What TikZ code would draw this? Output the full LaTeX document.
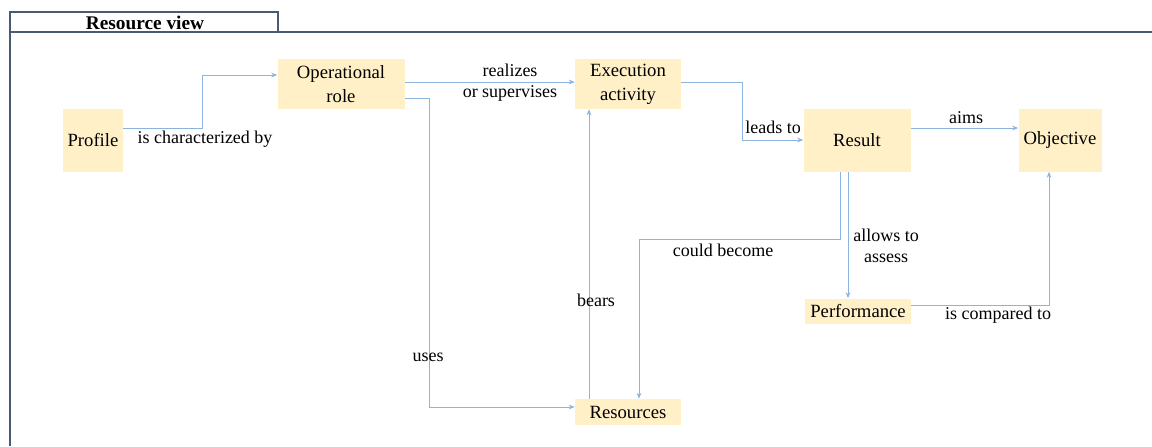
\documentclass[tikz,border=0pt]{standalone}
\usepackage{fontspec}
\setmainfont{Liberation Serif}
\usetikzlibrary{arrows.meta}

\definecolor{boxfill}{HTML}{FFF0C8}
\definecolor{linkblue}{HTML}{8CB4E0}
\definecolor{framegray}{HTML}{4A5A70}

\begin{document}
\begin{tikzpicture}[x=0.75pt, y=-0.75pt,
  box/.style={fill=boxfill, inner sep=1pt, align=center, font=\fontsize{14}{18}\selectfont},
  lbl/.style={inner sep=0pt, align=center, font=\fontsize{13.5}{15.75}\selectfont},
  link/.style={draw=linkblue, line width=0.7pt, -{Stealth[length=4.5pt, width=3.5pt]}},
  frame/.style={draw=framegray, line width=1pt}]

\useasboundingbox (0,0) rectangle (1152,446);

% frame and title
\draw[frame] (10,446) -- (10,12) -- (278,12) -- (278,32);
\draw[frame] (10,32) -- (1152,32);
\node[font=\fontsize{14.5}{17}\selectfont\bfseries] (title) at (145,23) {Resource view};

% boxes
\node[box, minimum width=45pt, minimum height=47.25pt] (prof) at (93,140) {Profile};
\node[box, minimum width=95.25pt, minimum height=37.5pt] (oprole) at (341,84) {Operational\\role};
\node[box, minimum width=79.5pt, minimum height=37.5pt] (exec) at (628,84) {Execution\\activity};
\node[box, minimum width=80.25pt, minimum height=47.25pt] (result) at (857,140) {Result};
\node[box, minimum width=62.25pt, minimum height=47.25pt] (obj) at (1060,140) {Objective};
\node[box, minimum width=79.5pt, minimum height=18.75pt] (perf) at (858,311) {Performance};
\node[box, minimum width=79.5pt, minimum height=19.5pt] (res) at (628,412) {Resources};

% links
\draw[link] ([yshift=9pt]prof.east) -- ++(79,0) |- ([yshift=6.75pt]oprole.west);
\draw[link] ([yshift=1.5pt]oprole.east) -- ([yshift=1.5pt]exec.west);
\draw[link] ([yshift=-10.5pt]oprole.east) -- ++(25,0) |- ([yshift=3.75pt]res.west);
\draw[link] ([xshift=-29.25pt]res.north) -- ([xshift=-29.25pt]exec.south);
\draw[link] ([yshift=1.5pt]exec.east) -- ++(61,0) |- (result.west);
\draw[link] ([yshift=9pt]result.east) -- ([yshift=9pt]obj.west);
\draw[link] ([xshift=-12.75pt]result.south) -- ++(0,68) -| ([xshift=8.25pt]res.north);
\draw[link] ([xshift=-7.5pt]perf.north |- result.south) -- ([xshift=-7.5pt]perf.north);
\draw[link] ([yshift=4.5pt]perf.east) -| ([xshift=-8.25pt]obj.south);

% labels
\node[lbl] (l1) at (205,139) {is characterized by};
\node[lbl] (l2) at (510,83) {realizes\\or supervises};
\node[lbl] (l3) at (428,357) {uses};
\node[lbl] (l4) at (596,300) {bears};
\node[lbl] (l5) at (773,127) {leads to};
\node[lbl] (l6) at (966,118) {aims};
\node[lbl] (l7) at (723,250) {could become};
\node[lbl] (l8) at (886,246) {allows to\\assess};
\node[lbl] (l9) at (998,315) {is compared to};
\end{tikzpicture}
\end{document}
